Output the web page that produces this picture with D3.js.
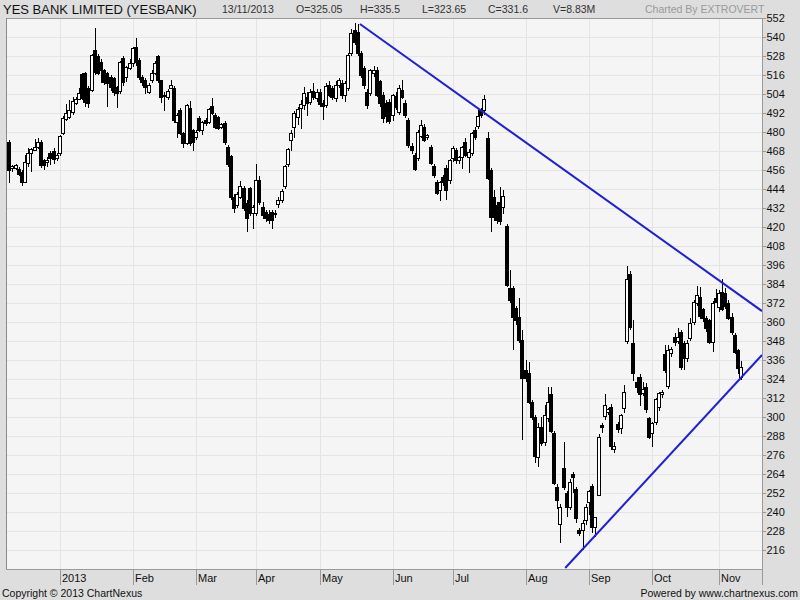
<!DOCTYPE html>
<html><head><meta charset="utf-8">
<script src="https://cdnjs.cloudflare.com/ajax/libs/d3/7.8.5/d3.min.js"></script>
<style>
html,body{margin:0;padding:0;background:#dedede;}
svg{display:block;}
text{font-family:"Liberation Sans",Arial,sans-serif;}
</style>
</head><body>
<svg id="chart" width="800" height="600"></svg>
<script>
// ---------- DATA (daily OHLC, YESBANK, Dec 2012 - 13 Nov 2013) ----------
const opens = [474,457,457,456.6,455,448.5,460.5,467,468.5,470.5,474,462,461,467,468,463.5,466.7,479.4,488.5,489.5,
492.6,498,500.8,516.6,517,508,506.5,531.8,528,524,519,517.3,514.7,514,508.4,506,526.7,514.7,520.5,523.6,
533.7,525.5,514.7,512.8,505.3,512.8,517.3,528,512.8,503.5,502,507.8,507.8,486.3,494,479.4,473,495,481,477,
489,481.3,487.6,486.3,496.4,490.7,489.5,483,485.7,470.5,464.8,439.2,433.9,439.2,444.4,435.4,444.4,428.6,428.6,449.7,
432.8,429.7,428,429.7,428,434.3,437.1,445.9,459.8,475,482.9,489.7,495,497.1,502.3,499.2,506.1,501.3,505.5,498.5,
497.1,509.7,507.6,501.3,509.7,511,503.4,507.6,529.7,544.4,543.4,529.7,520.2,505.5,504.9,517,519,512,503.4,498,
499,490.7,503,492.8,506.5,498.5,487.6,471.2,465.5,463.4,477.5,483.4,477,470.7,458.5,448.6,443.4,451.8,457,449.7,
463.4,468.6,462.3,464,473.9,464.4,467,481.3,484,493.9,493.9,476,456,439.2,433.9,436,432.8,420.6,381.3,381.3,
368.6,363.4,348.6,330,327.6,309.7,299.8,274.5,294,284.4,299.2,314.5,289.7,255.6,232.2,267.6,251.8,243.4,264,254.3,
228.6,228.6,235,246.5,256.4,230.7,250.7,295,300.6,303.4,306.5,279.6,295.6,292.9,305.5,348.2,390.3,346.9,322.3,325.5,
315,318.7,299.2,290.1,297.1,306.5,314.5,339.8,319.6,340.2,350.7,348.2,353.9,346.5,337.1,349.7,360.2,371.8,376,368,
362.3,361.3,347.6,374.9,369.7,379.2,378.5,372,363.4,351.8,342.3,325.05];
const highs = [475,459,460,458,456,465.5,470,470,475.5,476,475,463,464,468,470,467,478,490,498,500,
502,502,508,517,518,509,529,545.7,529,526,520,518,516,515,509,525,528,522,526,534,
539.4,527,516,514,511,519,525,528.5,513,505,507,513,509,492,495,480,498,499.6,482,481,
490,487,489,495,501.5,492,490,486,487,472,465.5,441,442,449,446,437,445,434,460,452,
436,431,431,431,431,439,444,459,470,481,493,496,500,508.6,505,507,510.7,507,507,500,
511,512,509,512,514,513,512,530,545,549,548,531,522,507,520,522,521,513,505,500,
501,504,505,509.7,512.8,500,489,473,467,481,487.6,485,479,472,460,450,449,453,459,463,
471,470,465,471,476,469,480,483,494,495,503.4,480.2,457,443.4,436,445.5,443.4,422,392.8,383,
370,375,355,336,335,311,301,296,300,307.6,318.7,318.7,291,258,245,284.4,253,261,265,256,
230,235,245,254,258,237,289,296.5,314.5,306,308,284,297,302,320.2,395.4,392,361.3,325,327,
322,321.5,300,297,312,316,317,345.5,345.5,344,353,356,355,348,348.7,362.3,374,382.7,382,369,
364,362,373,380.6,380,387,381.3,374,366,353,343,335.5];
const lows = [448,455,456,452,446,448,458,455,468,469,457,456,458,459,460,462,465,478,487,488,
491,497,500,500,496,495,505,516,516,511,510,495.8,506,503,495,504,509,511.8,519,521,
522,513,509,504,504,511,516,511,498.3,493,500,507,486,476,478,470,472,471,468,475,
480,478,484,485,491,482,481,482,472,458,437,429,432,438,430,417,427,419,427,434,
425,423,422,418.5,426,432,435,444,458,468,476,484.4,482,494,490,497,500,499,496,487.6,
495,502,500,499,508,501,499,506,528,535,528,514,507,494.3,503,515,502,496,486,486,
485,487,494,491,501,489,470,466,455.5,462,476,474,475,459,451,440.2,436.6,446,437,447,
461,460,460,456.4,464,454.3,465,475,481.6,489,491,450,417,424,422,421,428,382,372,342.3,
358,347,285.5,322,308,298,270.7,268.6,282,282,297,290,257,242,220.7,254,237,241,252,233,
225,216,232,238,226.5,224,250,290,298,301,279,277,290,289,302.7,346,355,323,315,307,
313,302.3,286,280.9,295,304,312,328,318,338,345,346,329.7,330,335,348,358,370,362,360,
354,346,341.3,372,366.5,367,368,361,352,340,327,323.65];
const closes = [456,458.5,459,453.5,448.5,461,467,469,470.5,474,459,459,462.5,463.5,463,465.5,477.5,489,492,494,
499.6,500.8,504.6,501.5,499,498.3,528.6,518,517.3,519,511.6,511,508.4,505,504.6,524,511.6,521,523.6,533,
524.2,514.7,511.6,508.4,509.7,517.3,523.6,512.8,502,502.5,506,509.7,487.6,490.7,479.4,473,497,473,474,480,
481,486.3,485.7,494.5,492,483,482.5,485,473.7,459.8,439,431.8,440.8,445.9,431.8,425.5,429,432.8,450,436,
427.6,425.5,424.5,424.4,429,437.1,443,458.5,469,479.6,491.8,494.3,497.7,504.4,498.1,505.5,501.9,505.5,497.7,496.4,
509,503.4,501.9,509.7,512.8,503.4,510.7,528.6,542.7,537.1,529.7,516,509.7,497.1,519.2,519,503.4,498,488.6,490,
487,503.4,496,507.6,502.3,490.7,471.8,468.6,456.4,480.2,484.4,475,478,460.2,452.8,441.7,448.6,448.6,443.4,462.3,
469.7,462.3,464,470.7,465.5,467.6,479.2,477,490,490.7,500.6,450.7,426.5,426.5,424.4,424,439.6,383.4,373.9,363.4,
361.3,348.6,324.4,324.4,309.7,299.8,275.4,294,283.4,301.3,309.7,291.4,258.5,247.6,243.4,256,243.4,259.2,262.3,236,
226.5,233.3,243.4,253.5,230.7,236.6,287.6,293.5,307.6,304.9,281.7,281.7,292.2,301.3,316,386.9,356.6,327.6,319.2,314.5,
318,304.9,287.6,296,311.2,315.4,316,329.7,342.3,342.7,347.6,350.3,331.8,337.1,346.5,359.2,372.8,377,363.8,362.3,
356,347.6,371.8,372.8,378.5,368,370.1,362.3,353.9,341.3,330.7,331.6];

const monthLabels = ["2013","Feb","Mar","Apr","May","Jun","Jul","Aug","Sep","Oct","Nov"];
const monthStart  = [16,39,59,78,98,121,140,163,183,203,224];   // candle index of first trading day
const yTickValues = d3.range(216, 553, 12);
const headerTitle = "YES BANK LIMITED (YESBANK)";
const headerItems = ["13/11/2013","O=325.05","H=335.5","L=323.65","C=331.6","V=8.83M"];
const headerCredit = "Charted By EXTROVERT";
const footerLeft = "Copyright \u00A9 2013 ChartNexus";
const footerRight = "Powered by www.chartnexus.com";
// trend lines: [candle index, price]
const upperTrend = [[110.7,548.2],[237.6,366.9]];
const lowerTrend = [[175.5,204.6],[237.6,339.2]];

// ---------- LAYOUT ----------
const L = 6, R = 762, T = 18, B = 569;
const svg = d3.select("#chart");
const x = d3.scaleLinear().domain([-1, 237.6]).range([L, R]);
const y = d3.scaleLinear().domain([204, 552]).range([B, T]);

svg.append("rect").attr("x",0).attr("y",0).attr("width",800).attr("height",600).attr("fill","#dedede");
svg.append("rect").attr("x",L).attr("y",T).attr("width",R-L).attr("height",B-T).attr("fill","#f5f5f5");

const defs = svg.append("defs");
defs.append("clipPath").attr("id","plotclip").append("rect")
  .attr("x",L).attr("y",T).attr("width",R-L).attr("height",B-T);

// grid
const grid = svg.append("g").attr("shape-rendering","crispEdges");
grid.selectAll("line.h").data(yTickValues).join("line")
  .attr("x1",L).attr("x2",R)
  .attr("y1",d=>Math.round(y(d))+0.5).attr("y2",d=>Math.round(y(d))+0.5)
  .attr("stroke","#e4e4e4");
grid.selectAll("line.v").data(monthStart).join("line")
  .attr("x1",d=>Math.round(x(d))+0.5).attr("x2",d=>Math.round(x(d))+0.5)
  .attr("y1",T).attr("y2",B)
  .attr("stroke","#e4e4e4");

// candles
const data = opens.map((o,i)=>({i, o, h:highs[i], l:lows[i], c:closes[i]}));
const cg = svg.append("g").attr("clip-path","url(#plotclip)").attr("shape-rendering","crispEdges");
cg.selectAll("line.wick").data(data).join("line")
  .attr("x1",d=>Math.round(x(d.i))+0.5).attr("x2",d=>Math.round(x(d.i))+0.5)
  .attr("y1",d=>y(d.h)).attr("y2",d=>y(d.l))
  .attr("stroke","#000").attr("stroke-width",1);
cg.selectAll("rect.body").data(data).join("rect")
  .attr("x",d=>Math.round(x(d.i))-1.5)
  .attr("y",d=>Math.round(y(Math.max(d.o,d.c)))+0.5)
  .attr("width",3)
  .attr("height",d=>Math.max(1,Math.round(y(Math.min(d.o,d.c)))-Math.round(y(Math.max(d.o,d.c)))))
  .attr("fill",d=>d.c>=d.o?"#ffffff":"#000000")
  .attr("stroke","#000").attr("stroke-width",1);

// trend lines
const tl = d3.line().x(d=>x(d[0])).y(d=>y(d[1]));
const lg = svg.append("g").attr("clip-path","url(#plotclip)");
[upperTrend, lowerTrend].forEach(t=>{
  lg.append("path").attr("d",tl(t)).attr("fill","none").attr("stroke","#1f1fd6").attr("stroke-width",2);
});

// frame
const fr = svg.append("g").attr("shape-rendering","crispEdges");
fr.append("rect").attr("x",L+0.5).attr("y",T+0.5).attr("width",R-L).attr("height",B-T)
  .attr("fill","none").attr("stroke","#9a9a9a");
fr.append("line").attr("x1",L+0.5).attr("x2",L+0.5).attr("y1",T).attr("y2",B).attr("stroke","#8a8a8a").attr("stroke-width",1);

// right axis
const yAxis = d3.axisRight(y).tickValues(yTickValues).tickSize(3).tickPadding(1).tickFormat(d3.format("d"));
const ya = svg.append("g").attr("transform",`translate(${R+0.5},0)`).call(yAxis);
ya.select(".domain").remove();
ya.selectAll(".tick line").attr("stroke","#9a9a9a").attr("shape-rendering","crispEdges");
ya.selectAll(".tick text").attr("font-size",11).attr("fill","#111").attr("font-family","Liberation Sans, Arial, sans-serif");

// bottom axis
const xa = svg.append("g").attr("shape-rendering","crispEdges");
xa.selectAll("line").data(monthStart).join("line")
  .attr("x1",d=>Math.round(x(d))+0.5).attr("x2",d=>Math.round(x(d))+0.5)
  .attr("y1",B).attr("y2",B+16).attr("stroke","#9a9a9a");
xa.append("line").attr("x1",R+0.5).attr("x2",R+0.5).attr("y1",B).attr("y2",B+16).attr("stroke","#9a9a9a");
svg.append("g").selectAll("text").data(monthStart).join("text")
  .attr("x",d=>Math.round(x(d))+2).attr("y",B+13)
  .attr("font-size",11).attr("fill","#111")
  .text((d,k)=>monthLabels[k]);

// header
svg.append("text").attr("x",3).attr("y",14).attr("font-size",13).attr("fill","#111").text(headerTitle);
const hx = [222,296,360,422,488,553];
svg.append("g").selectAll("text").data(headerItems).join("text")
  .attr("x",(d,k)=>hx[k]).attr("y",13).attr("font-size",10.5).attr("fill","#333").text(d=>d);
svg.append("text").attr("x",645).attr("y",13).attr("font-size",10.5).attr("fill","#9a9a9a").text(headerCredit);

// footer
svg.append("text").attr("x",2).attr("y",597).attr("font-size",10.5).attr("fill","#111").text(footerLeft);
svg.append("text").attr("x",798).attr("y",597).attr("text-anchor","end").attr("font-size",10.5).attr("fill","#111").text(footerRight);
</script>
</body></html>
